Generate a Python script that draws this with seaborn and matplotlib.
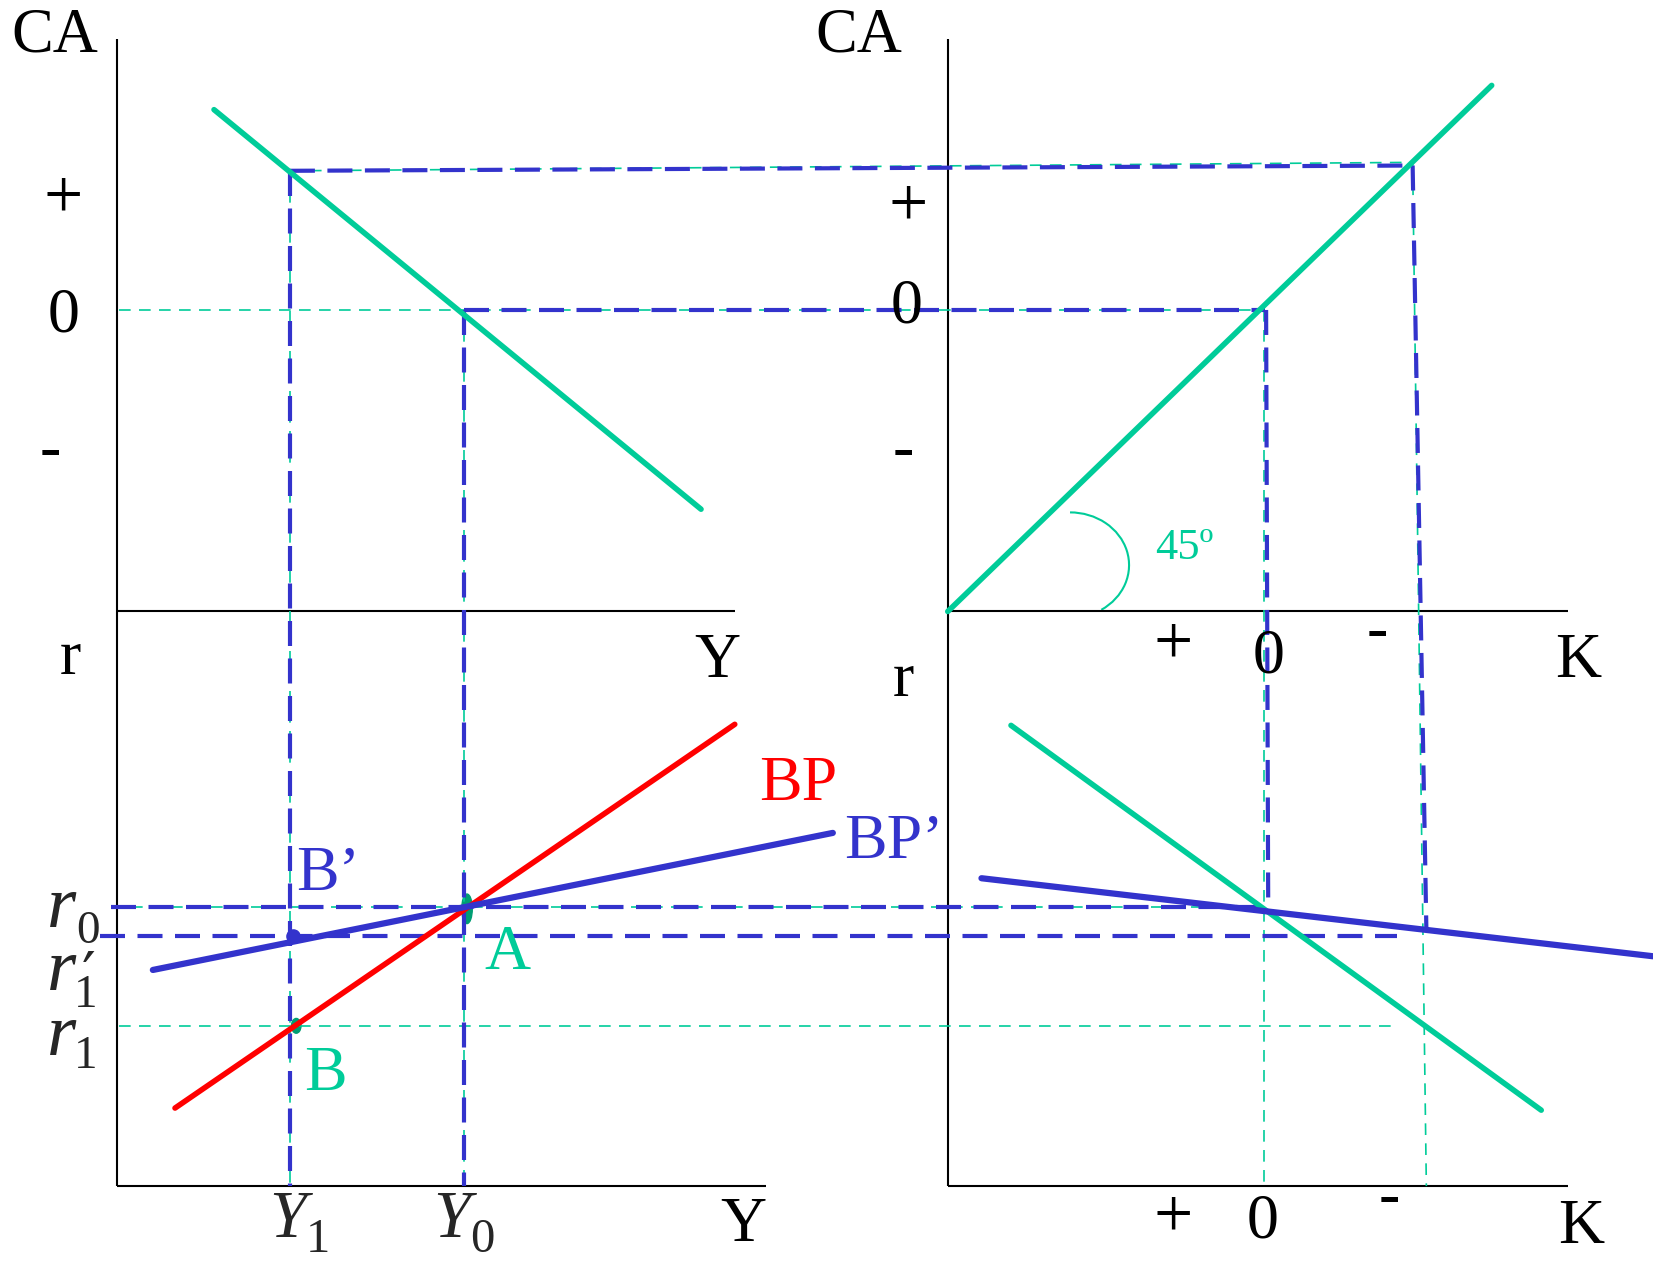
import numpy as np
import pandas as pd
import seaborn as sns
import matplotlib.pyplot as plt
from matplotlib.patches import Arc, Ellipse

sns.set_style("white")
plt.rcParams['font.family'] = ['Liberation Serif', 'DejaVu Serif']

# colours
GREEN = '#00CC99'
DKGREEN = '#009E73'
BLUE = '#3333CC'
RED = '#FF0000'

# diagram works in picture units (0..1568 wide, 0..1197 high, y down)
W, H = 1568, 1197

# axes of the four quadrants
axes_x = [[111, 111], [111, 697], [111, 727], [899, 899], [899, 1487], [899, 1487]]
axes_y = [[37, 1125], [580, 580], [1125, 1125], [37, 1125], [580, 580], [1125, 1125]]

# solid curves
curves = {
    'CA(Y)':  ([203, 665], [104, 483], GREEN, 4.0),
    'CA=-K':  ([899, 1415], [580, 81], GREEN, 4.0),
    'BP':     ([166, 697], [1051, 687], RED, 4.0),
    "BP'":    ([145, 790], [920, 790], BLUE, 4.5),
    'K(r)':   ([959, 1462], [688, 1053], GREEN, 4.0),
    "K'(r)":  ([931, 1568], [833, 907], BLUE, 4.5),
}

# thick blue dashed guides
blue_dash_x = [[275, 1340], [275, 275], [440, 1200], [440, 440], [1201, 1203],
               [1340, 1353], [105, 1200], [95, 1325]]
blue_dash_y = [[162, 157], [162, 1125], [294, 294], [294, 1125], [294, 862],
               [157, 880], [860, 860], [888, 888]]

# thin green dashed guides
green_dash_x = [[113, 1200], [275, 1340], [275, 275], [440, 440], [105, 1200],
                [113, 1322], [1199, 1199], [1340, 1353]]
green_dash_y = [[294, 294], [162, 154], [162, 1125], [294, 1125], [860, 860],
                [973, 973], [294, 1125], [155, 1125]]

# text labels: (text, x, y, colour, size)
labels = [
    ('CA', 52, 35, 'black', 45), ('+', 60, 190, 'black', 50), ('0', 60, 300, 'black', 46),
    ('-', 48, 430, 'black', 46), ('r', 67, 625, 'black', 46), ('Y', 680, 628, 'black', 46),
    ('CA', 815, 35, 'black', 45), ('+', 861, 198, 'black', 50), ('0', 860, 292, 'black', 46),
    ('-', 857, 430, 'black', 46), ('r', 857, 646, 'black', 46),
    ('+', 1113, 613, 'black', 50), ('0', 1203, 624, 'black', 46), ('-', 1306, 601, 'black', 46),
    ('K', 1497, 628, 'black', 46), ('45º', 1123, 520, GREEN, 32),
    ('BP', 757, 745, RED, 46), ('BP’', 848, 800, BLUE, 46), ('B’', 311, 830, BLUE, 46),
    ('A', 481, 905, GREEN, 46), ('B', 309, 1020, GREEN, 46),
    ('Y', 705, 1163, 'black', 46), ('+', 1113, 1157, 'black', 50), ('0', 1198, 1160, 'black', 46),
    ('-', 1318, 1138, 'black', 46), ('K', 1500, 1165, 'black', 46),
]
# italic symbols with large subscripts: (base, x, y, sub, sx, sy, size, subsize)
sym_labels = [
    ('r', 58, 862, '0', 72, 884, 54, 34),
    ('r', 58, 922, '1', 70, 944, 54, 34),
    ('r', 58, 984, '1', 70, 1002, 54, 34),
    ('Y', 273, 1158, '1', 290, 1176, 48, 35),
    ('Y', 428, 1158, '0', 446, 1176, 48, 35),
]

fig = plt.figure(figsize=(16.53, 12.62), dpi=100)
ax = fig.add_axes([0, 0, 1, 1])
ax.set_xlim(0, W)
ax.set_ylim(H, 0)
ax.axis('off')

for xs, ys in zip(axes_x, axes_y):
    ax.plot(xs, ys, color='black', lw=1.5, solid_capstyle='butt')

for xs, ys in zip(green_dash_x, green_dash_y):
    ax.plot(xs, ys, color=GREEN, lw=1.2, dashes=(7, 5))

for xs, ys in zip(blue_dash_x, blue_dash_y):
    ax.plot(xs, ys, color=BLUE, lw=3, dashes=(6, 3))

for name, (xs, ys, c, lw) in curves.items():
    df = pd.DataFrame({'x': xs, 'y': ys})
    sns.lineplot(data=df, x='x', y='y', ax=ax, color=c, lw=lw, sort=False,
                 estimator=None)
ax.set_xlabel('')
ax.set_ylabel('')

# 45 degree arc
ax.add_patch(Arc((1015, 536), 112, 100, theta1=-90, theta2=55, color=GREEN, lw=1.5))

# equilibrium points
ax.add_patch(Ellipse((443, 862), 10, 28, color=DKGREEN))
ax.add_patch(Ellipse((281, 973), 9, 14, color=DKGREEN))
ax.scatter([278], [888], s=90, color=BLUE, zorder=5)

for t, x, y, c, s in labels:
    ax.text(x, y, t, color=c, fontsize=s, ha='center', va='center')
for b, x, y, sub, sx, sy, s, ss in sym_labels:
    ax.text(x, y, b, fontsize=s, style='italic', ha='center', va='center')
    ax.text(sx, sy, sub, fontsize=ss, ha='left', va='center')
# prime on r1'
ax.text(78, 900, '′', fontsize=44, ha='left', va='top',
        family=['DejaVu Sans'])

fig.savefig('out.png', dpi=100)
